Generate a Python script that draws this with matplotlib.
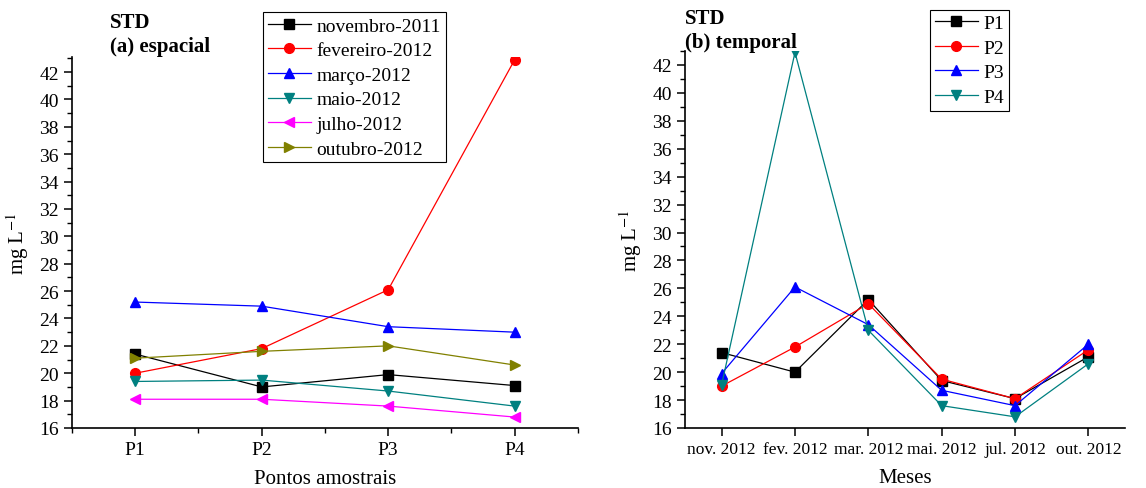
import numpy as np
import matplotlib.pyplot as plt
from matplotlib.ticker import MultipleLocator

plt.rcParams['font.family'] = ['Liberation Serif', 'DejaVu Serif']
plt.rcParams['mathtext.fontset'] = 'stix'

# STD values (mg/L) by sampling month, at points P1..P4
pontos = ['P1', 'P2', 'P3', 'P4']
meses_leg = ['novembro-2011', 'fevereiro-2012', 'março-2012', 'maio-2012', 'julho-2012', 'outubro-2012']
meses_tick = ['nov. 2012', 'fev. 2012', 'mar. 2012', 'mai. 2012', 'jul. 2012', 'out. 2012']

nov_2011 = [21.4, 19.0, 19.9, 19.1]
fev_2012 = [20.0, 21.8, 26.1, 42.9]
mar_2012 = [25.2, 24.9, 23.4, 23.0]
mai_2012 = [19.4, 19.5, 18.7, 17.6]
jul_2012 = [18.1, 18.1, 17.6, 16.8]
out_2012 = [21.1, 21.6, 22.0, 20.6]

por_mes = [nov_2011, fev_2012, mar_2012, mai_2012, jul_2012, out_2012]
cores_a = ['black', 'red', 'blue', '#008080', 'magenta', '#808000']
marcas_a = ['s', 'o', '^', 'v', '<', '>']

cores_b = ['black', 'red', 'blue', '#008080']
marcas_b = ['s', 'o', '^', 'v']

fig = plt.figure(figsize=(11.46, 4.89), dpi=100)
ax1 = fig.add_axes([0.0628, 0.1227, 0.4415, 0.7587])
ax2 = fig.add_axes([0.5977, 0.1227, 0.384, 0.771])

leg_kw = dict(loc='upper left', fontsize=14, handlelength=2.2, frameon=True, fancybox=False,
              edgecolor='black', borderpad=0.25, labelspacing=0.36, handletextpad=0.3,
              borderaxespad=0, framealpha=1)

# (a) espacial
x = np.arange(1, len(pontos) + 1)
for vals, lab, c, m in zip(por_mes, meses_leg, cores_a, marcas_a):
    ax1.plot(x, vals, color=c, marker=m, markersize=7, lw=0.9, label=lab)
ax1.set_xlim(0.5, 4.5)
ax1.set_xticks(x)
ax1.set_xticklabels(pontos)
ax1.xaxis.set_minor_locator(MultipleLocator(0.5))
ax1.set_xlabel('Pontos amostrais', fontsize=15, labelpad=8)
leg = ax1.legend(bbox_to_anchor=(0.378, 1.121), **leg_kw)
leg.get_frame().set_linewidth(0.8)
ax1.text(0.075, 1.08, 'STD', transform=ax1.transAxes, fontsize=15, fontweight='bold')
ax1.text(0.075, 1.015, '(a) espacial', transform=ax1.transAxes, fontsize=15, fontweight='bold')

# (b) temporal
xm = np.arange(1, len(meses_tick) + 1)
for i, (c, m) in enumerate(zip(cores_b, marcas_b)):
    serie = [mes[i] for mes in por_mes]
    ax2.plot(xm, serie, color=c, marker=m, markersize=7, lw=0.9, label=pontos[i])
ax2.set_xlim(0.5, 6.5)
ax2.set_xticks(xm)
ax2.set_xticklabels(meses_tick)
ax2.set_xlabel('Meses', fontsize=15, labelpad=8)
leg = ax2.legend(bbox_to_anchor=(0.557, 1.11), **leg_kw)
leg.get_frame().set_linewidth(0.8)
ax2.text(0.0, 1.075, 'STD', transform=ax2.transAxes, fontsize=15, fontweight='bold')
ax2.text(0.0, 1.01, '(b) temporal', transform=ax2.transAxes, fontsize=15, fontweight='bold')

for ax, top in ((ax1, 43.1), (ax2, 43.0)):
    ax.set_ylim(16, top)
    ax.yaxis.set_major_locator(MultipleLocator(2))
    ax.yaxis.set_minor_locator(MultipleLocator(1))
    ax.spines['top'].set_visible(False)
    ax.spines['right'].set_visible(False)
    ax.spines['left'].set_linewidth(1.2)
    ax.spines['bottom'].set_linewidth(1.2)
    ax.tick_params(which='major', direction='out', length=6, width=1.1, labelsize=14)
    ax.tick_params(which='minor', direction='out', length=3.5, width=1.0)
    ax.set_ylabel('mg L$^{-1}$', fontsize=15, labelpad=6)

ax2.tick_params(axis='x', labelsize=12.5)

fig.savefig('out.png', dpi=100)
